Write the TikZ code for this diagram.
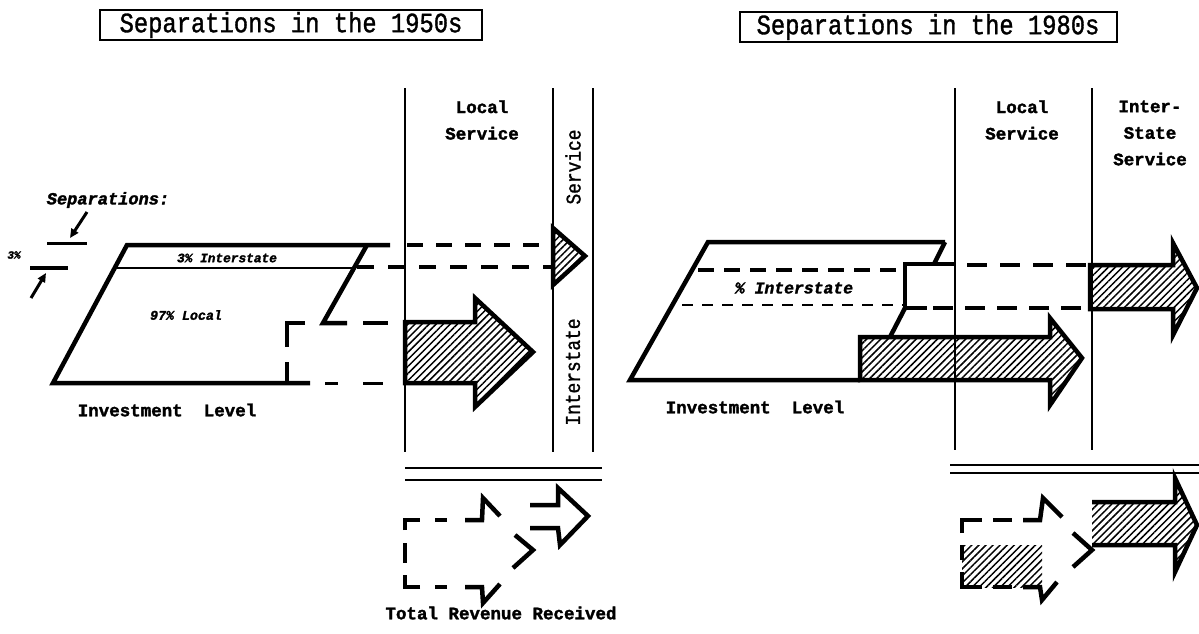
\documentclass[tikz,border=0pt]{standalone}
\usepackage{fontspec}
\usetikzlibrary{patterns.meta,arrows.meta}
\newfontfamily\titlefont[FakeStretch=0.85,FakeBold=1.2]{Liberation Mono}
\newfontfamily\labelfont[FakeBold=1.8]{Liberation Mono}
\begin{document}
\begin{tikzpicture}[x=1pt,y=-1pt,
  outline/.style={line width=4.5pt, line join=miter},
  seg/.style={line width=4.5pt},
  thinseg/.style={line width=3pt},
  rule/.style={line width=1.8pt},
  hatch/.style={pattern={Lines[angle=45,distance=5pt,line width=1.5pt]}},
  titlebox/.style={draw, line width=2pt, inner sep=0pt, minimum height=30pt,
    font=\titlefont\fontsize{28}{28}\selectfont},
  lab/.style={font=\labelfont\bfseries\fontsize{17.5}{26.5}\selectfont, align=center, inner sep=0pt},
  ital/.style={font=\labelfont\bfseries\itshape, inner sep=0pt},
  vlab/.style={rotate=90, inner sep=0pt, font=\titlefont\fontsize{21}{21}\selectfont},
  pointer/.style={line width=3pt, -{Triangle[length=9pt,width=8pt]}}
]
\useasboundingbox (0,0) rectangle (1199,633);

% ---------- titles ----------
\node[titlebox, minimum width=382pt] (t50) at (291,25) {Separations in the 1950s};
\node[titlebox, minimum width=377pt] (t80) at (928,27) {Separations in the 1980s};

% ================= 1950s panel =================
% service columns
\draw[rule] (405,88) -- (405,452);
\draw[rule] (553,88) -- (553,452);
\draw[rule] (593,88) -- (593,452);
\draw[line width=2.6pt] (405,468) -- (602,468);
\draw[line width=2.6pt] (405,480) -- (602,480);
\node[lab] (ls50) at (482,120) {Local\\Service};
\node[vlab] (sv50) at (573,167) {Service};
\node[vlab] (is50) at (573,372) {Interstate};

% investment block
\draw[outline] (390,245) -- (127,245) -- (53,383) -- (310,383);
\draw[line width=2.6pt] (115,268) -- (353,268);
\draw[outline] (367,245) -- (323,323) -- (347,323);
\draw[outline] (305,323) -- (287,323) -- (287,347);
\draw[outline] (287,362) -- (287,383);
\node[ital, font=\labelfont\bfseries\itshape\fontsize{12.8}{13}\selectfont] (int50) at (227,258) {3\% Interstate};
\node[ital, font=\labelfont\bfseries\itshape\fontsize{13.3}{14}\selectfont] (loc50) at (186,315) {97\% Local};
\node[lab] (inv50) at (167,410) {Investment\ \ Level};

% separations note
\node[ital, font=\labelfont\bfseries\itshape\fontsize{17}{17}\selectfont] (sep) at (108,200) {Separations:};
\node[ital, font=\labelfont\bfseries\itshape\fontsize{11}{11}\selectfont] (pct) at (14,255) {3\%};
\coordinate (numL) at (47,243);
\coordinate (numR) at (87,243);
\coordinate (denL) at (30,268);
\coordinate (denR) at (68,268);
\draw[line width=3pt] (numL) -- (numR);
\draw[line width=3.5pt] (denL) -- (denR);
\draw[pointer] (87,212) -- (70,238);
\draw[pointer] (31,298) -- (46,273);

% interstate band carried to the interstate column
\draw[seg, dash pattern=on 16pt off 13pt] (407,245) -- (553,245);
\draw[seg, dash pattern=on 17pt off 14pt] (357,267) -- (553,267);
\filldraw[outline, hatch] (553,228) -- (585,256) -- (553,285) -- cycle;

% local part carried to the local column
\draw[seg] (363,323) -- (388,323);
\draw[thinseg] (325,383) -- (338,383);
\draw[thinseg] (363,383) -- (383,383);
\filldraw[outline, hatch] (405,322) -- (475,322) -- (475,298) -- (533,352)
  -- (475,407) -- (475,383) -- (405,383) -- cycle;

% revenue received
\draw[seg] (405,530) -- (405,520) -- (420,520);
\draw[seg] (435,520) -- (447,520);
\draw[seg, line join=miter] (465,520) -- (482,520) -- (483,498) -- (500,516);
\draw[seg] (515,535) -- (533,550) -- (513,568);
\draw[seg, line join=miter] (500,584) -- (483,603) -- (482,587) -- (465,587);
\draw[seg] (447,587) -- (435,587);
\draw[seg] (420,587) -- (405,587) -- (405,575);
\draw[seg] (405,543) -- (405,563);
\draw[outline] (530,505) -- (558,505) -- (558,488) -- (588,516) -- (560,545)
  -- (558,528) -- (530,528);
\node[lab] (rev) at (501,613) {Total Revenue Received};

% ================= 1980s panel =================
\draw[rule] (955,88) -- (955,450);
\draw[rule] (1092,88) -- (1092,450);
\draw[line width=2.6pt] (950,465) -- (1199,465);
\draw[line width=2.6pt] (950,473) -- (1199,473);
\node[lab] (ls80) at (1022,120) {Local\\Service};
\node[lab] (is80) at (1150,133) {Inter-\\State\\Service};

% investment block
\filldraw[outline, hatch] (860,337) -- (1050,337) -- (1050,318) -- (1082,358)
  -- (1050,405) -- (1050,380) -- (860,380) -- cycle;
\draw[outline] (945,242) -- (708,242) -- (630,380) -- (860,380);
\draw[outline] (945,242) -- (934,264);
\draw[outline] (955,264) -- (905,264) -- (905,308) -- (927,308);
\draw[outline] (905,308) -- (890,337);
\draw[line width=3.5pt, dash pattern=on 16pt off 10pt] (698,270) -- (903,270);
\draw[line width=2.6pt, dash pattern=on 11pt off 9pt] (682,305) -- (903,305);
\node[ital, font=\labelfont\bfseries\itshape\fontsize{16.4}{17}\selectfont] (int80) at (794,288) {\% Interstate};
\node[lab] (inv80) at (755,407) {Investment\ \ Level};

% interstate band carried to the interstate column
\draw[seg, dash pattern=on 20pt off 13pt] (967,265) -- (1088,265);
\draw[seg, dash pattern=on 20pt off 12pt] (933,308) -- (1088,308);
\filldraw[outline, hatch] (1090,265) -- (1173,265) -- (1173,243) -- (1197,288)
  -- (1173,335) -- (1173,309) -- (1090,309) -- cycle;

% revenue received
\fill[hatch] (962,545) rectangle (1042,587);
\draw[seg] (962,533) -- (962,520) -- (982,520);
\draw[seg] (993,520) -- (1012,520);
\draw[seg, line join=miter] (1023,520) -- (1040,520) -- (1043,498) -- (1062,517);
\draw[seg] (1073,533) -- (1092,550) -- (1073,567);
\draw[seg, line join=miter] (1057,582) -- (1042,600) -- (1040,587) -- (1023,587);
\draw[seg] (1012,587) -- (993,587);
\draw[seg] (982,587) -- (962,587) -- (962,572);
\draw[seg] (962,545) -- (962,560);
\fill[hatch] (1092,502) -- (1175,502) -- (1175,478) -- (1197,525) -- (1175,572)
  -- (1175,545) -- (1092,545) -- cycle;
\draw[outline] (1092,502) -- (1175,502) -- (1175,478) -- (1197,525) -- (1175,572)
  -- (1175,545) -- (1092,545);
\end{tikzpicture}
\end{document}
